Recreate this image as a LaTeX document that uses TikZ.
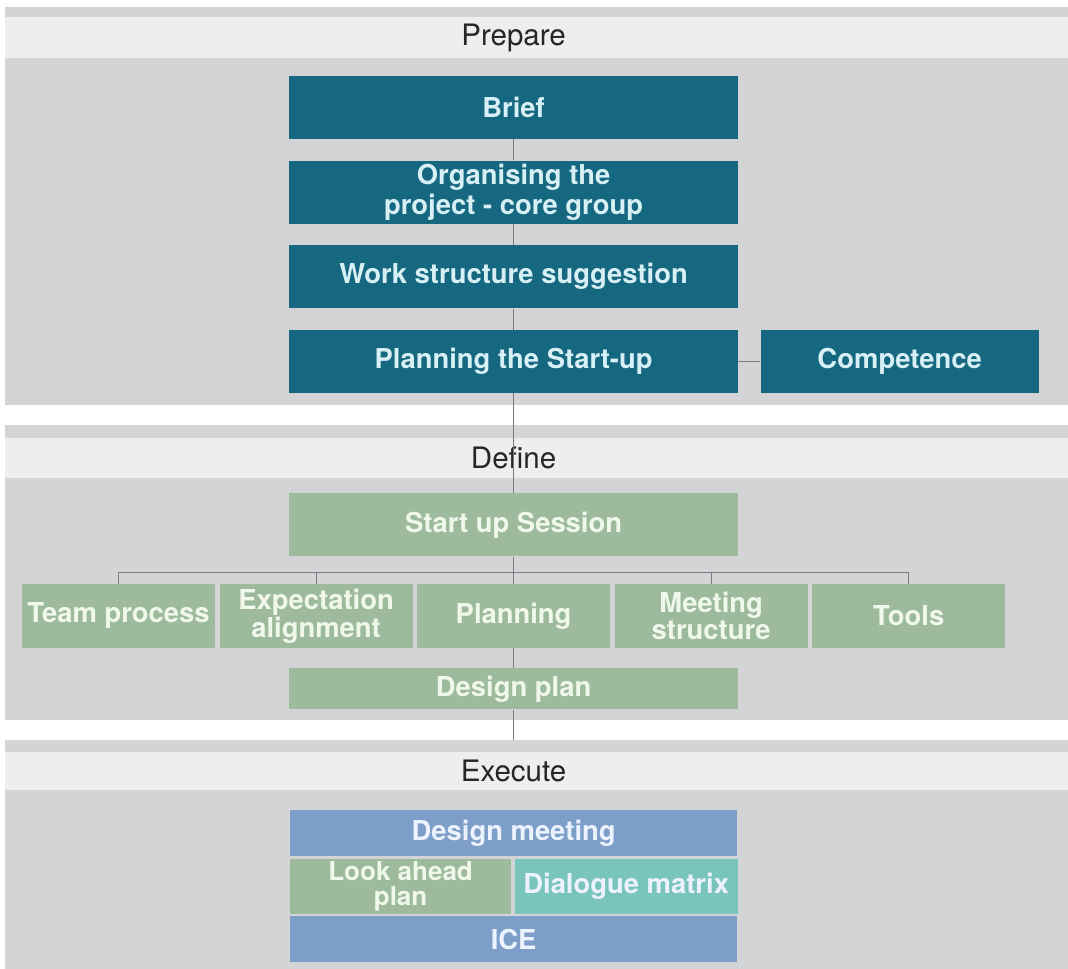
\documentclass[tikz,border=0pt]{standalone}
\usepackage{fontspec}
\setsansfont{TeX Gyre Heros}
\usetikzlibrary{positioning,calc}
\definecolor{petrol}{RGB}{22,103,128}
\definecolor{petroltext}{RGB}{214,240,246}
\definecolor{sage}{RGB}{157,186,157}
\definecolor{sagetext}{RGB}{240,248,236}
\definecolor{steel}{RGB}{125,158,200}
\definecolor{steeltext}{RGB}{236,242,255}
\definecolor{aqua}{RGB}{122,196,190}
\definecolor{panelgray}{RGB}{211,212,214}
\definecolor{headgray}{RGB}{238,238,238}
\definecolor{linegray}{RGB}{122,122,128}
\tikzset{
  box/.style={inner sep=1pt,align=center,font=\sffamily\bfseries\fontsize{19.5}{21}\selectfont},
  prepbox/.style={box,fill=petrol,text=petroltext,minimum width=11.225cm,minimum height=1.575cm},
  defbox/.style={box,fill=sage,text=sagetext,minimum width=11.225cm,minimum height=1.575cm},
  rowbox/.style={defbox,minimum width=4.825cm,minimum height=1.6cm,font=\sffamily\bfseries\fontsize{19.5}{18.5}\selectfont},
  meetbox/.style={box,fill=steel,text=steeltext,minimum width=11.175cm,minimum height=1.15cm},
  lookbox/.style={box,fill=sage,text=sagetext,inner sep=0pt,minimum width=5.525cm,minimum height=1.375cm,font=\sffamily\bfseries\fontsize{18.5}{18}\selectfont},
  dialbox/.style={box,fill=aqua,text=steeltext,inner sep=0pt,minimum width=5.575cm,minimum height=1.375cm},
  headtext/.style={font=\sffamily\fontsize{21}{24}\selectfont,text=black!85},
  link/.style={draw=linegray,line width=0.6pt}
}
\begin{document}
\begin{tikzpicture}
  \useasboundingbox[fill=white] (0,0) rectangle (26.7,-24.225);
  % phase panels
  \fill[panelgray] (0.125,-0.175) rectangle (26.7,-10.125);
  \fill[headgray] (0.125,-0.425) rectangle (26.7,-1.45);
  \fill[panelgray] (0.125,-10.625) rectangle (26.7,-18.0);
  \fill[headgray] (0.125,-10.95) rectangle (26.7,-11.95);
  \fill[panelgray] (0.125,-18.5) rectangle (26.7,-24.225);
  \fill[headgray] (0.125,-18.8) rectangle (26.7,-19.75);
  \coordinate (exectop) at (12.84,-18.5);

  % prepare
  \node[prepbox] (brief) at (12.84,-2.69) {Brief};
  \node[prepbox,below=0.525cm of brief] (org) {Organising the\\project - core group};
  \node[prepbox,below=0.525cm of org] (work) {Work structure suggestion};
  \node[prepbox,below=0.525cm of work] (plan) {Planning the Start-up};
  \node[prepbox,right=0.55cm of plan,minimum width=6.95cm] (comp) {Competence};

  % define
  \node[defbox,below=2.5cm of plan] (start) {Start up Session};
  \node[rowbox,below=0.675cm of start] (rplan) {Planning};
  \node[rowbox,left=0.1cm of rplan] (align) {Expectation\\alignment};
  \node[rowbox,left=0.1cm of align] (team) {Team process};
  \node[rowbox,right=0.1cm of rplan] (meet) {Meeting\\structure};
  \node[rowbox,right=0.1cm of meet] (tools) {Tools};
  \node[defbox,below=0.5cm of rplan,minimum height=1.025cm] (dplan) {Design plan};

  % execute
  \node[meetbox,below=2.5cm of dplan] (dmeet) {Design meeting};
  \node[lookbox,below right=0.05cm and 0cm of dmeet.south west] (look) {Look ahead\\plan};
  \node[dialbox,right=0.075cm of look] (dial) {Dialogue matrix};
  \node[meetbox,below right=0.05cm and 0cm of look.south west] (ice) {ICE};

  % headers
  \node[headtext] (prephead) at (12.84,-0.94) {Prepare};
  \node[headtext] (defhead) at (12.84,-11.45) {Define};
  \node[headtext] (exechead) at (12.84,-19.28) {Execute};

  % connectors
  \draw[link] (brief) -- (org);
  \draw[link] (org) -- (work);
  \draw[link] (work) -- (plan);
  \draw[link] (plan) -- (comp);
  \draw[link] (plan) -- (start);
  \coordinate (bus) at ($(start.south)!0.59!(rplan.north)$);
  \draw[link] (start) -- (rplan);
  \draw[link] (team |- bus) -- (tools |- bus);
  \foreach \n in {team,align,meet,tools}
    \draw[link] (\n |- bus) -- (\n.north);
  \draw[link] (rplan) -- (dplan);
  \draw[link] (dplan) -- (exectop);
\end{tikzpicture}
\end{document}
